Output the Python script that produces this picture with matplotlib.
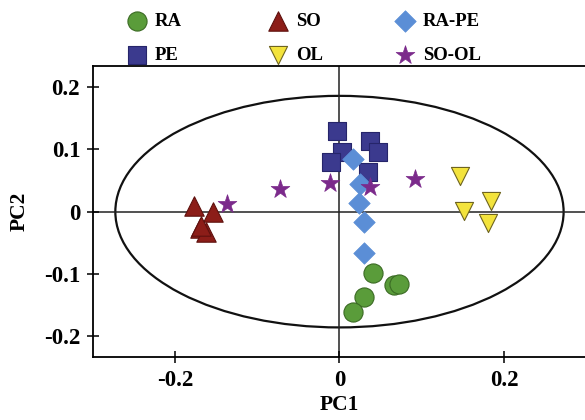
import numpy as np
import matplotlib
matplotlib.use("Agg")
from matplotlib import pyplot as plt
from matplotlib.patches import Ellipse

# PCA scores
ra_x = [0.041, 0.066, 0.072, 0.030, 0.016]
ra_y = [-0.099, -0.118, -0.116, -0.137, -0.161]

pe_x = [-0.003, 0.037, 0.047, 0.003, -0.010, 0.035]
pe_y = [0.130, 0.113, 0.096, 0.096, 0.080, 0.063]

so_x = [-0.177, -0.154, -0.170, -0.162, -0.168]
so_y = [0.009, 0.000, -0.026, -0.032, -0.023]

ol_x = [0.147, 0.184, 0.152, 0.181]
ol_y = [0.057, 0.017, 0.001, -0.018]

rape_x = [0.016, 0.025, 0.024, 0.030, 0.030]
rape_y = [0.085, 0.044, 0.014, -0.017, -0.066]

sool_x = [-0.137, -0.072, -0.012, 0.037, 0.092]
sool_y = [0.012, 0.037, 0.046, 0.039, 0.053]

# confidence ellipse (center, width, height)
ell_center = (0.0, 0.0)
ell_w, ell_h = 0.545, 0.372

plt.rcParams['font.family'] = ['Liberation Serif', 'DejaVu Serif']
plt.rcParams['font.weight'] = 'bold'

fig = plt.figure(figsize=(5.85, 4.20), dpi=100)
ax = fig.add_axes([0.1585, 0.1493, 0.8436, 0.6936])

ax.add_patch(Ellipse(ell_center, ell_w, ell_h, fill=False, ec='#111111', lw=1.6, zorder=1))
ax.axhline(0, color='#222222', lw=1.1, zorder=1)
ax.axvline(0, color='#222222', lw=1.1, zorder=1)

h_ra = ax.scatter(ra_x, ra_y, s=190, marker='o', c='#5a9c3a', edgecolors='#3b6b24', linewidths=0.8, zorder=3, label='RA')
h_pe = ax.scatter(pe_x, pe_y, s=170, marker='s', c='#3b3a8e', edgecolors='#26256a', linewidths=0.8, zorder=3, label='PE')
h_so = ax.scatter(so_x, so_y, s=195, marker='^', c='#8c1d18', edgecolors='#5e110e', linewidths=0.8, zorder=3, label='SO')
h_ol = ax.scatter(ol_x, ol_y, s=170, marker='v', c='#f3e33c', edgecolors='#6e6420', linewidths=0.8, zorder=3, label='OL')
h_rape = ax.scatter(rape_x, rape_y, s=120, marker='D', c='#5b8ed6', edgecolors='#5b8ed6', linewidths=0.5, zorder=4, label='RA-PE')
h_sool = ax.scatter(sool_x, sool_y, s=200, marker='*', c='#7b2a8b', edgecolors='#7b2a8b', linewidths=0.5, zorder=4, label='SO-OL')

ax.set_xlim(-0.3, 0.3)
ax.set_ylim(-0.234, 0.234)
ax.set_xticks([-0.2, 0, 0.2])
ax.set_xticklabels(['-0.2', '0', '0.2'])
ax.set_yticks([-0.2, -0.1, 0, 0.1, 0.2])
ax.set_yticklabels(['-0.2', '-0.1', '0', '0.1', '0.2'])
ax.tick_params(direction='inout', length=8, width=1.1, labelsize=16.5, pad=5)
for s in ax.spines.values():
    s.set_linewidth(1.3)
ax.spines['right'].set_visible(False)

ax.set_xlabel('PC1', fontsize=15.5, fontweight='bold', labelpad=3)
ax.set_ylabel('PC2', fontsize=15.5, fontweight='bold', labelpad=10)

# legend: three columns of two entries, placed one by one
W, H = 585.0, 420.0
fs = 13.5
em = fs * 100 / 72.0
hl = 1.0
columns = [((h_ra, h_pe), 137), ((h_so, h_ol), 278), ((h_rape, h_sool), 405)]
for handles, cx in columns:
    left = cx - hl * em / 2
    leg = fig.legend(handles=list(handles), loc='center left',
                     bbox_to_anchor=(left / W, 1 - 38.4 / H), frameon=False,
                     fontsize=fs, handlelength=hl, handletextpad=0.45,
                     labelspacing=0.88, borderpad=0, borderaxespad=0,
                     scatterpoints=1)

fig.savefig('out.png', dpi=100)
